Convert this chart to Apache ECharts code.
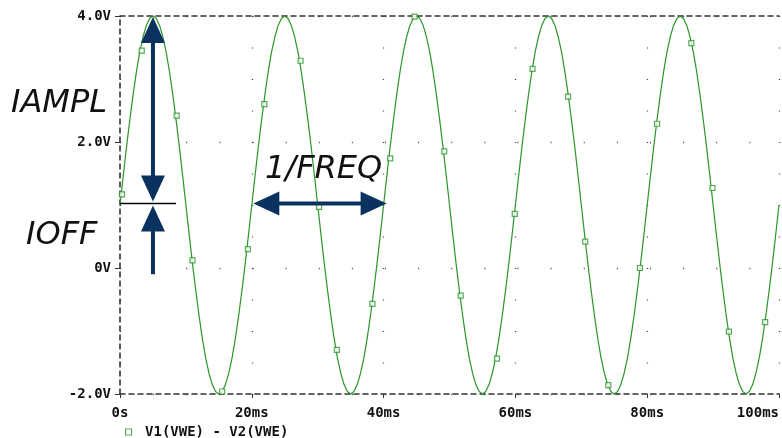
<!DOCTYPE html>
<html>
<head>
<meta charset="utf-8">
<script src="https://cdn.jsdelivr.net/npm/echarts@6/dist/echarts.min.js"></script>
<style>
html,body{margin:0;padding:0;background:#fff;}
#chart{width:782px;height:438px;}
</style>
</head>
<body>
<div id="chart"></div>
<script>
// ---- data ----
const sampleStepMs = 0.5; // spacing of the traced samples (ms)
const traceValues = [
  1.00, 1.47, 1.93, 2.36, 2.76, 3.12, 3.43, 3.67, 3.85, 3.96, 4.00, 3.96, 3.85, 3.67, 3.43, 3.12, 2.76, 2.36, 1.93, 1.47,
  1.00, 0.53, 0.07, -0.36, -0.76, -1.12, -1.43, -1.67, -1.85, -1.96, -2.00, -1.96, -1.85, -1.67, -1.43, -1.12, -0.76, -0.36, 0.07, 0.53,
  1.00, 1.47, 1.93, 2.36, 2.76, 3.12, 3.43, 3.67, 3.85, 3.96, 4.00, 3.96, 3.85, 3.67, 3.43, 3.12, 2.76, 2.36, 1.93, 1.47,
  1.00, 0.53, 0.07, -0.36, -0.76, -1.12, -1.43, -1.67, -1.85, -1.96, -2.00, -1.96, -1.85, -1.67, -1.43, -1.12, -0.76, -0.36, 0.07, 0.53,
  1.00, 1.47, 1.93, 2.36, 2.76, 3.12, 3.43, 3.67, 3.85, 3.96, 4.00, 3.96, 3.85, 3.67, 3.43, 3.12, 2.76, 2.36, 1.93, 1.47,
  1.00, 0.53, 0.07, -0.36, -0.76, -1.12, -1.43, -1.67, -1.85, -1.96, -2.00, -1.96, -1.85, -1.67, -1.43, -1.12, -0.76, -0.36, 0.07, 0.53,
  1.00, 1.47, 1.93, 2.36, 2.76, 3.12, 3.43, 3.67, 3.85, 3.96, 4.00, 3.96, 3.85, 3.67, 3.43, 3.12, 2.76, 2.36, 1.93, 1.47,
  1.00, 0.53, 0.07, -0.36, -0.76, -1.12, -1.43, -1.67, -1.85, -1.96, -2.00, -1.96, -1.85, -1.67, -1.43, -1.12, -0.76, -0.36, 0.07, 0.53,
  1.00, 1.47, 1.93, 2.36, 2.76, 3.12, 3.43, 3.67, 3.85, 3.96, 4.00, 3.96, 3.85, 3.67, 3.43, 3.12, 2.76, 2.36, 1.93, 1.47,
  1.00, 0.53, 0.07, -0.36, -0.76, -1.12, -1.43, -1.67, -1.85, -1.96, -2.00, -1.96, -1.85, -1.67, -1.43, -1.12, -0.76, -0.36, 0.07, 0.53,
  1.00
];
const markerTimes  = [0.3, 3.3, 8.6, 11.0, 15.5, 19.4, 21.9, 27.4, 30.2, 32.9, 38.3, 41.0, 44.7, 49.2, 51.7, 57.2, 59.9, 62.6, 68.0, 70.6, 74.1, 78.9, 81.5, 86.7, 89.9, 92.4, 97.9];
const markerValues = [1.17, 3.45, 2.42, 0.12, -1.96, 0.30, 2.60, 3.29, 0.97, -1.30, -0.57, 1.74, 3.99, 1.85, -0.44, -1.44, 0.86, 3.16, 2.72, 0.42, -1.86, 0.00, 2.29, 3.57, 1.27, -1.01, -0.86];
const xTickValues = [0, 20, 40, 60, 80, 100];
const xTickLabels = ['0s', '20ms', '40ms', '60ms', '80ms', '100ms'];
const yTickValues = [-2, 0, 2, 4];
const yTickLabels = ['-2.0V', '0V', '2.0V', '4.0V'];
const seriesName = 'V1(VWE) - V2(VWE)';
// annotation anchors (data units)
const peakTime = 5, offsetLevel = 1, peakLevel = 4, periodStart = 20, periodEnd = 40;

// ---- styling ----
const GREEN = '#2b962b';
const AXIS = '#333';
const NAVY = '#0a325e';
const MONO = '"DejaVu Sans Mono", "Liberation Mono", monospace';

const lineData = traceValues.map((v, i) => [i * sampleStepMs, v]);
const markerData = markerTimes.map((t, i) => [t, markerValues[i]]);

const chart = echarts.init(document.getElementById('chart'), null, {renderer: 'canvas'});

const option = {
  animation: false,
  backgroundColor: '#fff',
  grid: {left: 120, right: 0, top: 16, bottom: 44, containLabel: false},
  xAxis: [{
    type: 'value', min: 0, max: 100, interval: 20,
    axisLine: {show: true, onZero: false, lineStyle: {color: AXIS, width: 1.6, type: [5, 4]}},
    axisTick: {show: true, length: 4, inside: false, lineStyle: {color: AXIS, width: 1}},
    axisLabel: {
      margin: 12, color: '#111', fontFamily: MONO, fontWeight: 'bold', fontSize: 14,
      alignMaxLabel: 'right',
      formatter: v => xTickLabels[xTickValues.indexOf(v)]
    },
    splitLine: {show: true, lineStyle: {color: '#444', width: 1.3, type: [1, 30.5]}}
  }, {
    type: 'value', min: 0, max: 100, position: 'top',
    axisLine: {show: true, onZero: false, lineStyle: {color: AXIS, width: 1.6, type: [5, 4]}},
    axisTick: {show: false}, axisLabel: {show: false}, splitLine: {show: false}
  }],
  yAxis: {
    type: 'value', min: -2, max: 4, interval: 2,
    axisLine: {show: true, onZero: false, lineStyle: {color: AXIS, width: 1.6, type: [5, 4]}},
    axisTick: {show: true, length: 5, lineStyle: {color: AXIS, width: 1}},
    axisLabel: {
      margin: 9, color: '#111', fontFamily: MONO, fontWeight: 'bold', fontSize: 14,
      formatter: v => yTickLabels[yTickValues.indexOf(v)]
    },
    splitLine: {show: true, lineStyle: {color: '#444', width: 1.3, type: [1, 32.125]}}
  },
  legend: {
    data: [{name: seriesName, icon: 'rect'}],
    left: 120, top: 420, itemWidth: 6, itemHeight: 6,
    formatter: n => ' ' + n,
    textStyle: {fontFamily: MONO, fontWeight: 'bold', fontSize: 14, color: '#111'},
    itemStyle: {color: '#fff', borderColor: GREEN, borderWidth: 1.2}
  },
  series: [{
    name: 'trace', type: 'line', data: lineData, showSymbol: false, symbol: 'none',
    lineStyle: {color: GREEN, width: 1.2}, clip: false, z: 2
  }, {
    name: seriesName, type: 'scatter', data: markerData, symbol: 'rect', symbolSize: 5,
    itemStyle: {color: '#fff', borderColor: GREEN, borderWidth: 1.2}, z: 3
  }]
};
chart.setOption(option);

// ---- annotations positioned from data anchors ----
const px = (t, v) => chart.convertToPixel({gridIndex: 0}, [t, v]);
const HL = 26, HW = 12, SW = 4;
function head(x, y, dir) {
  let pts;
  if (dir === 'up') pts = [[x, y], [x - HW, y + HL], [x + HW, y + HL]];
  else if (dir === 'down') pts = [[x, y], [x - HW, y - HL], [x + HW, y - HL]];
  else if (dir === 'left') pts = [[x, y], [x + HL, y - HW], [x + HL, y + HW]];
  else pts = [[x, y], [x - HL, y - HW], [x - HL, y + HW]];
  return {type: 'polygon', shape: {points: pts}, style: {fill: NAVY}, z: 10};
}
function shaft(x1, y1, x2, y2) {
  return {type: 'line', shape: {x1, y1, x2, y2}, style: {stroke: NAVY, lineWidth: SW}, z: 10};
}
const [ax, peakY] = px(peakTime, peakLevel);
const offY = px(peakTime, offsetLevel)[1] - 1.5;
const leftX = px(0, offsetLevel)[0];
const lineEndX = px(8.5, offsetLevel)[0];
const tailY = px(peakTime, -0.1)[1];
const fx1 = px(periodStart, offsetLevel)[0] + 1.5;
const fx2 = px(periodEnd, offsetLevel)[0] + 3;
const textStyle = {fill: '#111', font: 'italic 32px "DejaVu Sans", Verdana, sans-serif'};
chart.setOption({
  graphic: [
    head(ax, peakY + 1, 'up'),
    shaft(ax, peakY + HL, ax, offY - 2 - HL + 2),
    head(ax, offY - 2, 'down'),
    {type: 'line', shape: {x1: leftX, y1: offY, x2: lineEndX, y2: offY}, style: {stroke: '#000', lineWidth: 1.4}, z: 11},
    head(ax, offY + 2, 'up'),
    shaft(ax, offY + HL, ax, tailY),
    head(fx1, offY, 'left'),
    shaft(fx1 + HL - 2, offY, fx2 - HL + 2, offY),
    head(fx2, offY, 'right'),
    {type: 'text', x: 11, y: 104, style: Object.assign({text: 'IAMPL', verticalAlign: 'middle', align: 'left'}, textStyle), z: 12},
    {type: 'text', x: 26, y: 236, style: Object.assign({text: 'IOFF', verticalAlign: 'middle', align: 'left'}, textStyle), z: 12},
    {type: 'text', x: 265, y: 170, style: Object.assign({text: '1/FREQ', verticalAlign: 'middle', align: 'left'}, textStyle), z: 12}
  ]
});
</script>
</body>
</html>
